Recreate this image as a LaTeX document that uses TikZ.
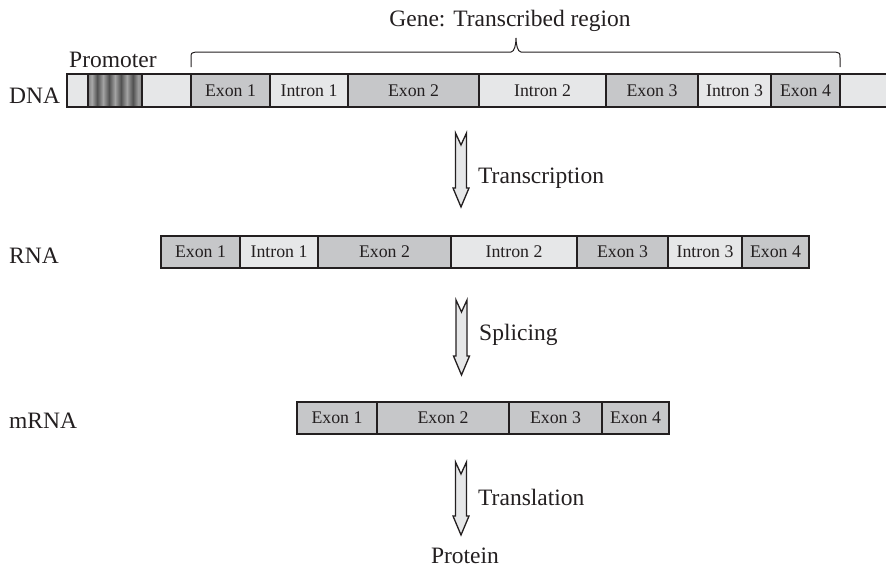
\documentclass[tikz,border=0pt]{standalone}
\usepackage{fontspec}
\setmainfont{Liberation Serif}
\definecolor{ink}{HTML}{231F20}
\definecolor{exon}{HTML}{C6C7C9}
\definecolor{intron}{HTML}{E6E7E8}
\pgfdeclarehorizontalshading{promo}{100bp}{%
rgb(0bp)=(0.5,0.5,0.5); rgb(25bp)=(0.5,0.5,0.5);
rgb(28.5bp)=(0.66,0.66,0.66); rgb(33.5bp)=(0.32,0.32,0.32);
rgb(39bp)=(0.64,0.64,0.64); rgb(44.5bp)=(0.32,0.32,0.32);
rgb(50bp)=(0.64,0.64,0.64); rgb(55.5bp)=(0.32,0.32,0.32);
rgb(61bp)=(0.64,0.64,0.64); rgb(66.5bp)=(0.32,0.32,0.32);
rgb(71.5bp)=(0.62,0.62,0.62); rgb(75bp)=(0.5,0.5,0.5);
rgb(100bp)=(0.5,0.5,0.5)}
\tikzset{
  seg/.style={draw=ink, line width=1.8pt, inner sep=0pt, outer sep=0pt,
    anchor=north west, font=\fontsize{17.8}{20}\selectfont, text=ink},
  exonseg/.style={seg, fill=exon},
  intronseg/.style={seg, fill=intron},
  lbl/.style={font=\fontsize{23.5}{26}\selectfont, text=ink, inner sep=0pt, anchor=base west},
  barrow/.style={draw=ink, fill=intron, line width=1.3pt, line join=miter},
  bracestyle/.style={draw=ink, line width=1pt}
}
% #1 style, #2 name, #3 x-left, #4 x-right, #5 y-top, #6 height, #7 text
\newcommand\gseg[7]{\node[#1, minimum width={(#4-#3)*1pt}, minimum height=#6pt] (#2) at (#3,#5) {#7};}
% #1 name, #2 x, #3 top, #4 tip
\newcommand\blockarrow[4]{%
  \coordinate (#1) at (#2,#3);
  \draw[barrow] (#2-5.5,#3) -- (#2,#3+12) -- (#2+5.5,#3) -- (#2+5.5,#4-19) -- (#2+8,#4-19)
    -- (#2,#4) -- (#2-8,#4-19) -- (#2-5.5,#4-19) -- cycle;}
\begin{document}
\begin{tikzpicture}[x=1pt,y=-1pt]
\useasboundingbox (0,0) rectangle (886,568);
% DNA
\gseg{intronseg}{d0}{67}{88}{74}{33}{}
\node[seg, shade, shading=promo, minimum width=54pt, minimum height=33pt] (prom) at (88,74) {};
\gseg{intronseg}{d1}{142}{191}{74}{33}{}
\gseg{exonseg}{de1}{191}{270}{74}{33}{Exon 1}
\gseg{intronseg}{di1}{270}{348}{74}{33}{Intron 1}
\gseg{exonseg}{de2}{348}{479}{74}{33}{Exon 2}
\gseg{intronseg}{di2}{479}{606}{74}{33}{Intron 2}
\gseg{exonseg}{de3}{606}{698}{74}{33}{Exon 3}
\gseg{intronseg}{di3}{698}{771}{74}{33}{Intron 3}
\gseg{exonseg}{de4}{771}{840}{74}{33}{Exon 4}
\gseg{intronseg}{d9}{840}{889}{74}{33}{}
% RNA
\gseg{exonseg}{re1}{161}{240}{236}{32}{Exon 1}
\gseg{intronseg}{ri1}{240}{318}{236}{32}{Intron 1}
\gseg{exonseg}{re2}{318}{451}{236}{32}{Exon 2}
\gseg{intronseg}{ri2}{451}{577}{236}{32}{Intron 2}
\gseg{exonseg}{re3}{577}{668}{236}{32}{Exon 3}
\gseg{intronseg}{ri3}{668}{742}{236}{32}{Intron 3}
\gseg{exonseg}{re4}{742}{809}{236}{32}{Exon 4}
% mRNA
\gseg{exonseg}{me1}{297}{377}{402}{32}{Exon 1}
\gseg{exonseg}{me2}{377}{509}{402}{32}{Exon 2}
\gseg{exonseg}{me3}{509}{602}{402}{32}{Exon 3}
\gseg{exonseg}{me4}{602}{669}{402}{32}{Exon 4}
% brace
\draw[bracestyle] (191,67) -- (191,58) .. controls (191,53) .. (196,52) -- (511,52)
  .. controls (514.5,52) and (516,44) .. (516,38)
  .. controls (516,44) and (517.5,52) .. (521,52) -- (835,52)
  .. controls (840,53) .. (840,58) -- (840,67);
% arrows
\blockarrow{a1}{461}{133}{207}
\blockarrow{a2}{461.5}{300}{375}
\blockarrow{a3}{461}{462}{535}
% labels
\node[lbl, anchor=base] (gene) at (510,26) {Gene: Transcribed region};
\node[lbl] (promlbl) at (69,67) {Promoter};
\node[lbl] (dna) at (9,103) {DNA};
\node[lbl] (rna) at (9,263) {RNA};
\node[lbl] (mrna) at (9,428) {mRNA};
\node[lbl] (tc) at (478,183) {Transcription};
\node[lbl] (sp) at (479,340) {Splicing};
\node[lbl] (tl) at (478,505) {Translation};
\node[lbl, anchor=base] (prot) at (465,563) {Protein};
\end{tikzpicture}
\end{document}
